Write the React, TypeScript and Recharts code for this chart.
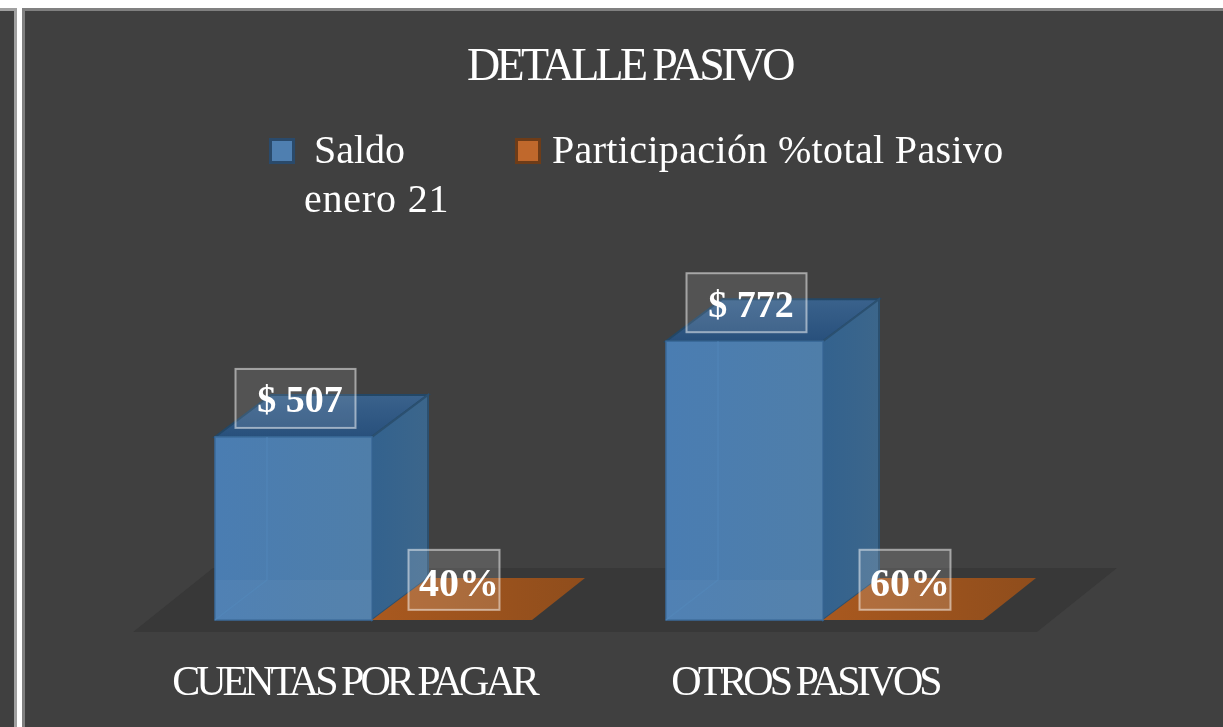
import React from 'react';
import { BarChart, Bar, XAxis, YAxis, LabelList, Legend, ReferenceArea } from 'recharts';

const categories = ['CUENTAS POR PAGAR', 'OTROS PASIVOS'];
const saldo = [507, 772];
const participacion = [0.4, 0.6];
const seriesNames = ['Saldo enero 21', 'Participación %total Pasivo'];

const chartData = categories.map((name, i) => ({ name, saldo: saldo[i], participacion: participacion[i] }));

const SERIF = '"Liberation Serif", serif';
const DX = 56;
const DY = -42;

const Floor = ({ x, y, width, height }: any) => {
  const base = y + height;
  const l = x - 13;
  const r = x + width - 11;
  const b = base + 12;
  return <polygon points={`${l},${b} ${r},${b} ${r + 80},${b - 64} ${l + 80},${b - 64}`} fill="#383838" />;
};

const Box3D = ({ x, y, width, height }: any) => {
  const b = y + height;
  const r = x + width;
  return (
    <g>
      <polygon points={`${x},${y} ${r},${y} ${r + DX},${y + DY} ${x + DX},${y + DY}`} fill="url(#topFace)" stroke="#234766" strokeWidth={2} />
      <polygon points={`${r},${y} ${r + DX},${y + DY} ${r + DX},${b + DY} ${r},${b}`} fill="url(#sideFace)" stroke="#2b5070" strokeWidth={2} />
      <rect x={x} y={y} width={width} height={height} fill="url(#frontFace)" stroke="#3a6a9a" strokeWidth={1.5} />
      <rect x={x} y={b + DY + 2} width={width} height={-DY - 2} fill="#ffffff" fillOpacity={0.035} />
      <polyline points={`${x},${b} ${x + DX - 4},${b + DY + 2} ${x + DX - 4},${y}`} fill="none" stroke="#5488bb" strokeOpacity={0.6} strokeWidth={1.5} />
    </g>
  );
};

const FlatBar = ({ x, y, width, height }: any) => {
  const b = y + height;
  const r = x + width;
  return <polygon points={`${x},${b} ${r + 3},${b} ${r + DX},${b + DY} ${x + DX},${b + DY}`} fill="url(#flatFace)" />;
};

const SaldoLabel = ({ x, y, value }: any) => (
  <g>
    <rect x={x + 20.5} y={y - 68} width={120} height={59} fill="#ffffff" fillOpacity={0.1} stroke="#ffffff" strokeOpacity={0.5} strokeWidth={2} />
    <text x={x + 85} y={y - 24.5} textAnchor="middle" fill="#ffffff" fontFamily={SERIF} fontSize={38} fontWeight={700} letterSpacing={0}>
      {`$ ${value}`}
    </text>
  </g>
);

const PctLabel = ({ x, y, value }: any) => (
  <g>
    <rect x={x + 36.5} y={y - 70} width={91} height={60} fill="#ffffff" fillOpacity={0.14} stroke="#ffffff" strokeOpacity={0.5} strokeWidth={2} />
    <text x={x + 87} y={y - 24} textAnchor="middle" fill="#ffffff" fontFamily={SERIF} fontSize={40} fontWeight={700}>
      {`${Math.round(value * 100)}%`}
    </text>
  </g>
);

const CategoryTick = ({ x, y, payload }: any) => (
  <text x={x - 17.5} y={y + 67} textAnchor="middle" fill="#ffffff" fontFamily={SERIF} fontSize={42} letterSpacing={-4}>
    {payload.value}
  </text>
);

const swatch = (left: number, fill: string, edge: string) => (
  <div style={{ position: 'absolute', left, top: 138, width: 26, height: 26, boxSizing: 'border-box', background: fill, border: `3px solid ${edge}` }} />
);

const legendText: React.CSSProperties = {
  position: 'absolute',
  color: '#ffffff',
  fontFamily: SERIF,
  fontSize: 40,
  lineHeight: '46px',
  whiteSpace: 'nowrap',
};

const LegendContent = () => (
  <div style={{ position: 'absolute', left: 0, top: 0, width: 1223, height: 230 }}>
    {swatch(269, '#4f7fb0', '#2a4a6b')}
    <div style={{ ...legendText, left: 314, top: 127, letterSpacing: 0 }}>Saldo</div>
    <div style={{ ...legendText, left: 304, top: 176, letterSpacing: 0.8 }}>enero 21</div>
    {swatch(515, '#c0682c', '#6e3c18')}
    <div style={{ ...legendText, left: 552, top: 127, letterSpacing: 0.35 }}>{seriesNames[1]}</div>
  </div>
);

export default function App() {
  return (
    <div style={{ position: 'absolute', left: 0, top: 0, width: 1223, height: 727, background: '#ffffff', overflow: 'hidden' }}>
      <div style={{ position: 'absolute', left: -10, top: 8, width: 27, height: 740, boxSizing: 'border-box', background: '#404040', border: '3px solid #a0a0a0' }} />
      <div style={{ position: 'absolute', left: 22, top: 8, width: 1230, height: 740, boxSizing: 'border-box', background: '#404040', border: '3px solid #808080' }} />
      <div style={{ position: 'absolute', left: 0, top: 0, filter: 'blur(0.5px)' }}>
        <BarChart
          width={1223}
          height={727}
          data={chartData}
          margin={{ top: 295, right: 175, bottom: 47, left: 146 }}
          barSize={157}
          barGap={0}
        >
          <defs>
            <linearGradient id="frontFace" x1="0" y1="0" x2="1" y2="0">
              <stop offset="0%" stopColor="#4a7db2" />
              <stop offset="100%" stopColor="#4f7ea9" />
            </linearGradient>
            <linearGradient id="sideFace" x1="0" y1="0" x2="1" y2="0">
              <stop offset="0%" stopColor="#33628e" />
              <stop offset="100%" stopColor="#3c668b" />
            </linearGradient>
            <linearGradient id="topFace" x1="0" y1="1" x2="0" y2="0">
              <stop offset="0%" stopColor="#28507c" />
              <stop offset="100%" stopColor="#3a628c" />
            </linearGradient>
            <linearGradient id="flatFace" x1="0" y1="0" x2="1" y2="0">
              <stop offset="0%" stopColor="#a9591f" />
              <stop offset="100%" stopColor="#8f4d1c" />
            </linearGradient>
          </defs>
          <XAxis dataKey="name" axisLine={false} tickLine={false} height={60} interval={0} tick={<CategoryTick />} />
          <YAxis hide domain={[0, 900]} />
          <ReferenceArea y1={0} y2={1} shape={<Floor />} ifOverflow="visible" />
          <Legend content={<LegendContent />} wrapperStyle={{ left: 0, top: 0, width: 1223, height: 0 }} />
          <Bar dataKey="saldo" name={seriesNames[0]} shape={<Box3D />} isAnimationActive={false}>
            <LabelList dataKey="saldo" content={<SaldoLabel />} />
          </Bar>
          <Bar dataKey="participacion" name={seriesNames[1]} shape={<FlatBar />} isAnimationActive={false}>
            <LabelList dataKey="participacion" content={<PctLabel />} />
          </Bar>
        </BarChart>
        <div
          style={{
            position: 'absolute',
            left: 467,
            top: 38,
            color: '#ffffff',
            fontFamily: SERIF,
            fontSize: 46,
            letterSpacing: -3.7,
            whiteSpace: 'nowrap',
          }}
        >
          DETALLE PASIVO
        </div>
      </div>
    </div>
  );
}
